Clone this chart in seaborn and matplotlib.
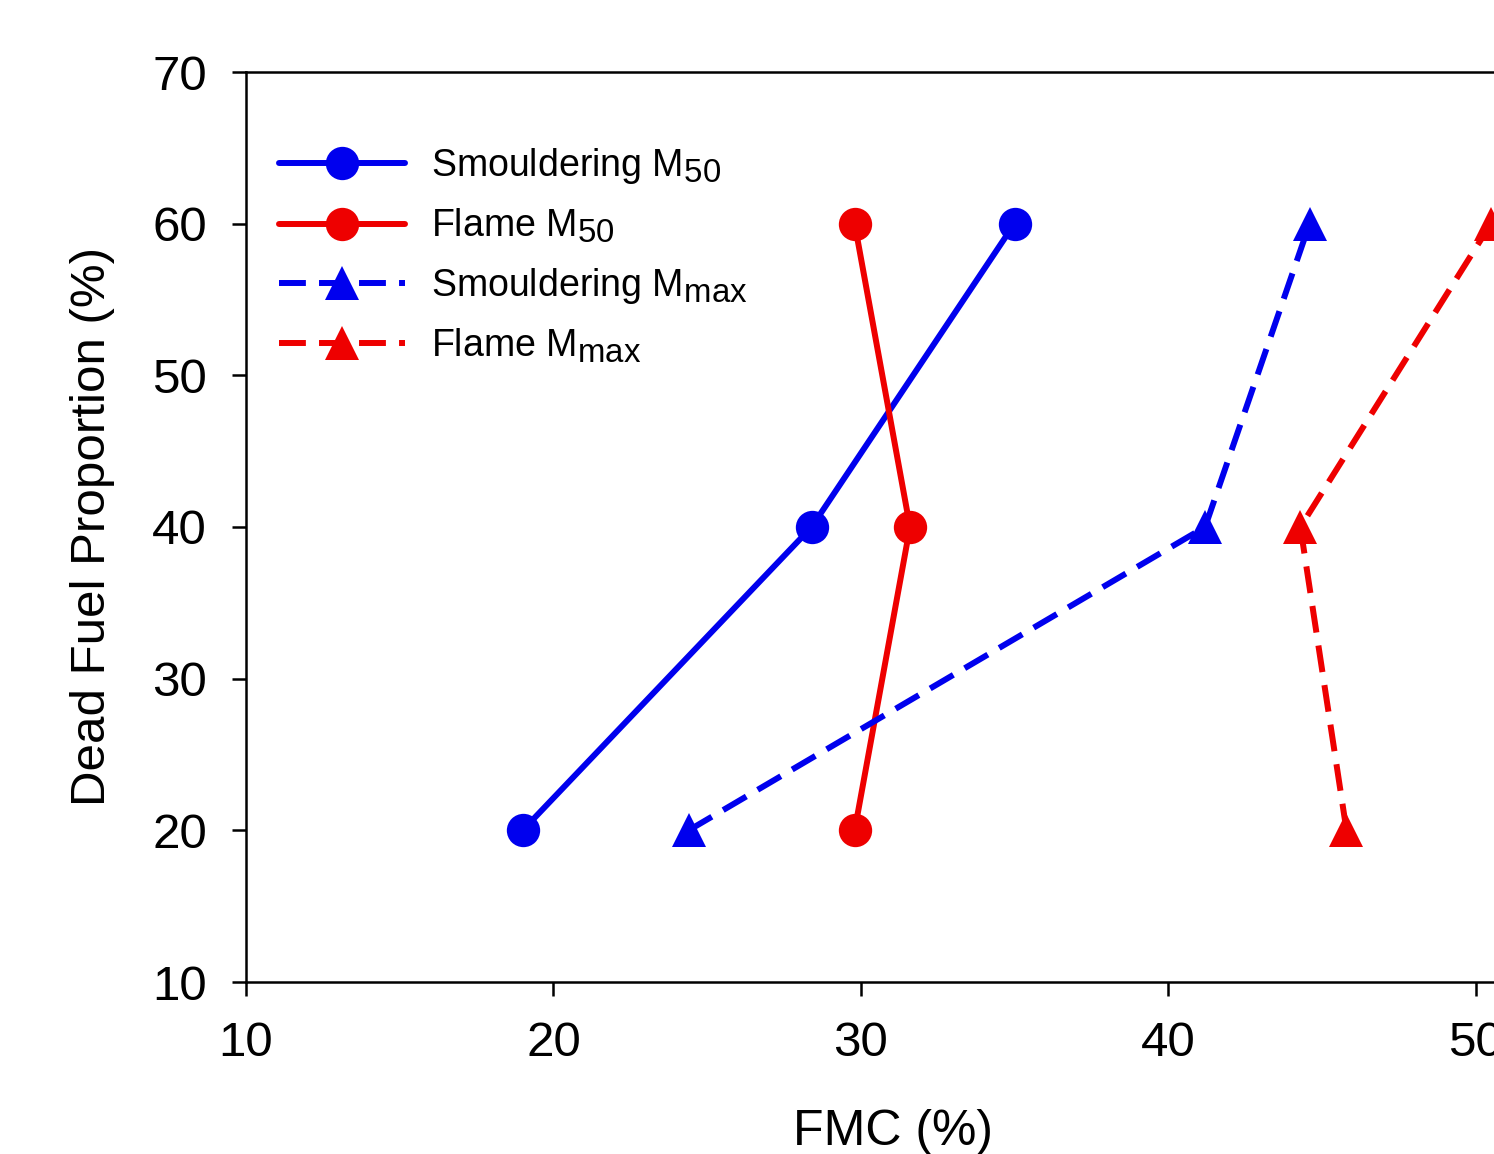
import numpy as np
import pandas as pd
import matplotlib
matplotlib.use("Agg")
import matplotlib.pyplot as plt
import matplotlib._mathtext as mt
import seaborn as sns

sns.set_theme(style="white")
plt.rcParams['font.family'] = ['Liberation Sans', 'DejaVu Sans']
plt.rcParams['mathtext.fontset'] = 'custom'
plt.rcParams['mathtext.rm'] = 'Liberation Sans'
plt.rcParams['mathtext.it'] = 'Liberation Sans'
plt.rcParams['text.color'] = 'black'
plt.rcParams['axes.labelcolor'] = 'black'
# subscripts in the original are nearly full size
mt.SHRINK_FACTOR = 0.88

# data
dead_fuel = [20, 40, 60]
smoulder_m50 = [19.0, 28.4, 35.0]
flame_m50 = [29.8, 31.6, 29.8]
smoulder_mmax = [24.4, 41.2, 44.6]
flame_mmax = [45.8, 44.3, 50.5]

labels = ["Smouldering M$_{50}$", "Flame M$_{50}$",
          "Smouldering M$_{max}$", "Flame M$_{max}$"]
series = [smoulder_m50, flame_m50, smoulder_mmax, flame_mmax]

rows = []
for lab, vals in zip(labels, series):
    for y, x in zip(dead_fuel, vals):
        rows.append({"series": lab, "FMC": x, "dead": y})
df = pd.DataFrame(rows)

palette = dict(zip(labels, ["#0000ee", "#ee0000", "#0000ee", "#ee0000"]))
markers = dict(zip(labels, ["o", "o", "^", "^"]))
dashes = dict(zip(labels, ["", "", (4.5, 2.2), (4.5, 2.2)]))

fig = plt.figure(figsize=(14.94, 11.54), dpi=100)
ax = fig.add_axes([246 / 1494, 172 / 1154, 1537 / 1494, 910 / 1154])

sns.lineplot(data=df, x="FMC", y="dead", hue="series", style="series",
             palette=palette, markers=markers, dashes=dashes, sort=False,
             estimator=None, linewidth=4.3, markersize=24,
             markeredgewidth=0, ax=ax)

ax.set_xlim(10, 60)
ax.set_ylim(10, 70)
ax.set_xticks([10, 20, 30, 40, 50, 60])
ax.set_yticks([10, 20, 30, 40, 50, 60, 70])
for s in ax.spines.values():
    s.set_color("black")
    s.set_linewidth(1.8)
ax.tick_params(axis="both", direction="out", length=10, width=1.8,
               colors="black", labelsize=35.5, pad=18, bottom=True, left=True)

ax.set_xlabel("FMC (%)", fontsize=36)
ax.set_ylabel("Dead Fuel Proportion (%)", fontsize=35.5)
ax.xaxis.set_label_coords(0.421, -0.14)
ax.yaxis.set_label_coords(-0.085, 0.5)

leg = ax.legend(loc="upper left", bbox_to_anchor=(0.012, 0.935), frameon=False,
                fontsize=27, handlelength=3.36, handletextpad=0.67,
                labelspacing=0.55, borderaxespad=0)

fig.savefig("out.png", dpi=100)
